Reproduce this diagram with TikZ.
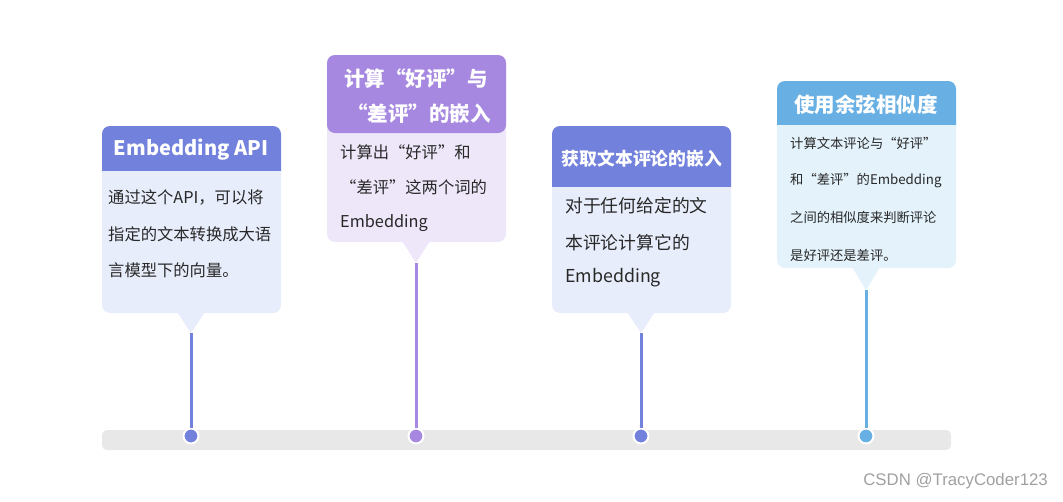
\documentclass[tikz,border=0pt]{standalone}
\usepackage{fontspec}
\setmainfont{Noto Sans CJK SC}
\newfontfamily\wmfont{Liberation Sans}
\definecolor{hblue}{RGB}{114,129,220}
\definecolor{bblue}{RGB}{232,237,251}
\definecolor{hpurp}{RGB}{166,136,224}
\definecolor{bpurp}{RGB}{238,231,249}
\definecolor{hsky}{RGB}{104,175,227}
\definecolor{bsky}{RGB}{227,242,251}
\definecolor{barc}{RGB}{232,232,232}
\definecolor{txt}{RGB}{40,40,40}
\definecolor{wmc}{RGB}{160,160,160}
\tikzset{
  bodytext/.style={anchor=west, inner sep=0pt, text=txt},
  headtext/.style={anchor=center, inner sep=0pt, text=white, font=\bfseries},
  stem/.style={line width=3pt},
  dot/.style={circle, inner sep=0pt, minimum size=15pt, draw=white, line width=2pt},
}
\begin{document}
\begin{tikzpicture}[x=1pt,y=-1pt]
\useasboundingbox (0,0) rectangle (1063,501);
% timeline bar
\fill[barc, rounded corners=5pt] (102,430) rectangle (951,450);

% ---------- card 1
\fill[bblue, rounded corners=8pt] (102,126) rectangle (281,313);
\fill[bblue] (177,312) -- (205,312) -- (191,333) -- cycle;
\fill[hblue, rounded corners=8pt] (102,126) rectangle (281,180);
\fill[bblue] (102,171) rectangle (281,181);
\coordinate (t1) at (191,333);
\node[headtext, font=\bfseries\fontsize{20}{24}\selectfont] (h1) at (191,150) {Embedding API};
\node[bodytext, font=\fontsize{16.3}{20}\selectfont] (b1a) at (108,197) {通过这个API，可以将};
\node[bodytext, font=\fontsize{16.3}{20}\selectfont] (b1b) at (108,234) {指定的文本转换成大语};
\node[bodytext, font=\fontsize{16.3}{20}\selectfont] (b1c) at (108,270) {言模型下的向量。};

% ---------- card 2
\fill[bpurp, rounded corners=8pt] (327,55) rectangle (506,242);
\fill[bpurp] (402,241) -- (430,241) -- (416,263) -- cycle;
\fill[hpurp, rounded corners=8pt] (327,55) rectangle (506,133);
\coordinate (t2) at (416,263);
\node[headtext, font=\bfseries\fontsize{20.5}{24}\selectfont] (h2a) at (416,79) {计算“好评”与};
\node[headtext, font=\bfseries\fontsize{20.5}{24}\selectfont] (h2b) at (419,114) {“差评”的嵌入};
\node[bodytext, font=\fontsize{16.3}{20}\selectfont] (b2a) at (340,152) {计算出“好评”和};
\node[bodytext, font=\fontsize{16.3}{20}\selectfont] (b2b) at (340,187) {“差评”这两个词的};
\node[bodytext, font=\fontsize{16.3}{20}\selectfont] (b2c) at (340,223) {Embedding};

% ---------- card 3
\fill[bblue, rounded corners=8pt] (552,126) rectangle (731,313);
\fill[bblue] (627,312) -- (655,312) -- (641,333) -- cycle;
\fill[hblue, rounded corners=8pt] (552,126) rectangle (731,195);
\fill[bblue] (552,187) rectangle (731,196);
\coordinate (t3) at (641,333);
\node[headtext, font=\bfseries\fontsize{17.8}{22}\selectfont] (h3) at (642,159) {获取文本评论的嵌入};
\node[bodytext, font=\fontsize{17.8}{22}\selectfont] (b3a) at (565,206) {对于任何给定的文};
\node[bodytext, font=\fontsize{17.8}{22}\selectfont] (b3b) at (565,243) {本评论计算它的};
\node[bodytext, font=\fontsize{17.8}{22}\selectfont] (b3c) at (565,278) {Embedding};

% ---------- card 4
\fill[bsky, rounded corners=8pt] (777,81) rectangle (956,268);
\fill[bsky] (852,267) -- (880,267) -- (866,290) -- cycle;
\fill[hsky, rounded corners=8pt] (777,81) rectangle (956,133);
\fill[bsky] (777,125) rectangle (956,134);
\coordinate (t4) at (866,290);
\node[headtext, font=\bfseries\fontsize{20.5}{24}\selectfont] (h4) at (866,105) {使用余弦相似度};
\node[bodytext, font=\fontsize{13.3}{16}\selectfont] (b4a) at (790,143) {计算文本评论与“好评”};
\node[bodytext, font=\fontsize{13.3}{16}\selectfont] (b4b) at (790,181) {和“差评”的Embedding};
\node[bodytext, font=\fontsize{13.3}{16}\selectfont] (b4c) at (790,217) {之间的相似度来判断评论};
\node[bodytext, font=\fontsize{13.3}{16}\selectfont] (b4d) at (790,255) {是好评还是差评。};

% ---------- stems and dots
\node[dot, fill=hblue] (d1) at (191,436) {};
\node[dot, fill=hpurp] (d2) at (416,436) {};
\node[dot, fill=hblue] (d3) at (641,436) {};
\node[dot, fill=hsky]  (d4) at (866,436) {};
\draw[stem, hblue] (t1) -- (d1);
\draw[stem, hpurp] (t2) -- (d2);
\draw[stem, hblue] (t3) -- (d3);
\draw[stem, hsky]  (t4) -- (d4);

% watermark
\node[anchor=east, inner sep=0pt, text=wmc, font=\wmfont\fontsize{16.8}{20}\selectfont] (wm) at (1048,481) {CSDN @TracyCoder123};
\end{tikzpicture}
\end{document}
